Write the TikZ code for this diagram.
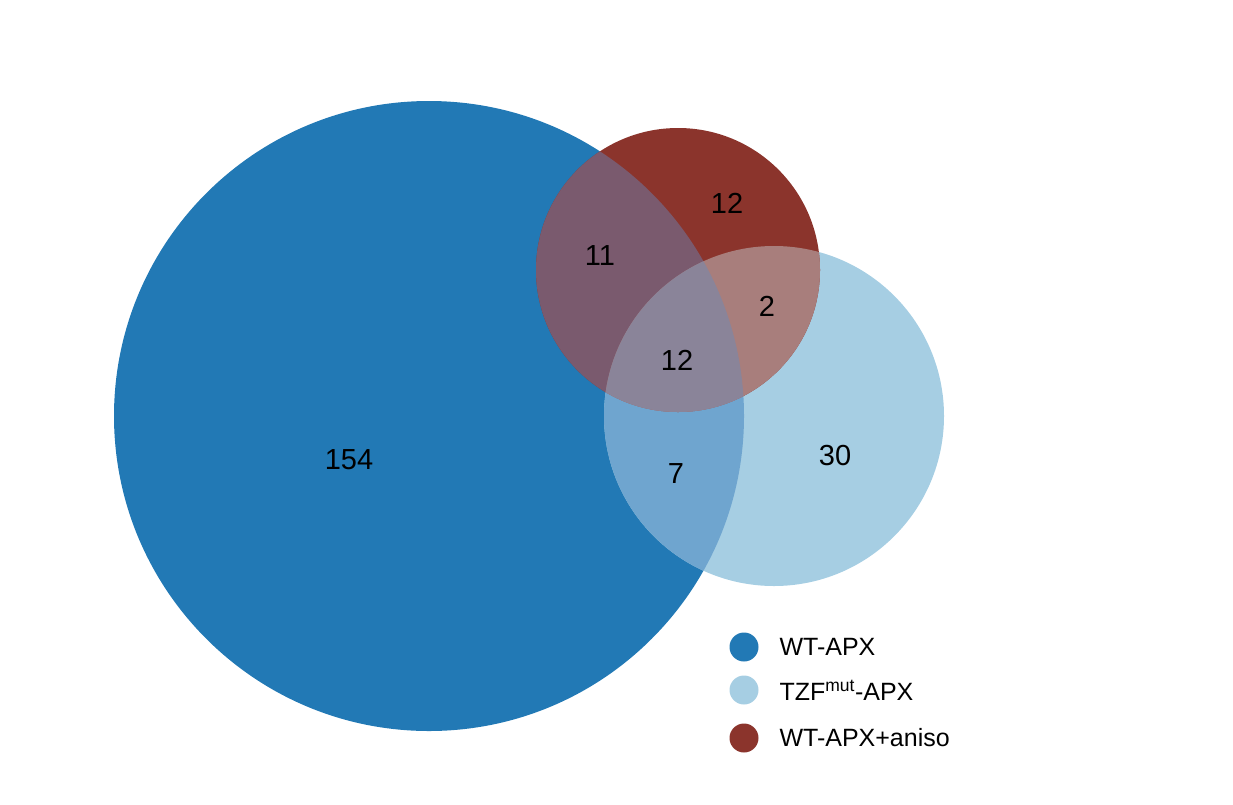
\documentclass[tikz,border=0pt]{standalone}
\usepackage{fontspec}
\setmainfont{Liberation Sans}
\definecolor{cB}{HTML}{2279B5}
\definecolor{cL}{HTML}{A6CEE3}
\definecolor{cR}{HTML}{8B342C}
\definecolor{cBR}{HTML}{7A5A6E}
\definecolor{cBL}{HTML}{6FA5CF}
\definecolor{cRL}{HTML}{A87E7C}
\definecolor{cBRL}{HTML}{8A8499}
\begin{document}
\begin{tikzpicture}[x=1pt,y=-1pt,
  num/.style={font=\fontsize{29}{32}\selectfont},
  leg/.style={font=\fontsize{25}{28}\selectfont,anchor=west},
  dot/.style={circle,minimum size=29pt,inner sep=0pt}]
\useasboundingbox (0,0) rectangle (1233,804);
\def\B{(429,416) circle[radius=315]}
\def\L{(774,416) circle[radius=170]}
\def\R{(678,270) circle[radius=142]}
\fill[cB] \B;
\fill[cL] \L;
\fill[cR] \R;
\begin{scope}\clip \B; \fill[cBL] \L; \fill[cBR] \R; \end{scope}
\begin{scope}\clip \L; \fill[cRL] \R; \end{scope}
\begin{scope}\clip \B; \clip \L; \fill[cBRL] \R; \end{scope}
\node[num] (n154) at (349,460) {154};
\node[num] (n12a) at (727,203) {12};
\node[num] (n11) at (600,256) {11};
\node[num] (n2) at (767,306) {2};
\node[num] (n12b) at (677,360) {12};
\node[num] (n7) at (676,474) {7};
\node[num] (n30) at (835,456) {30};
\node[dot,fill=cB] (d1) at (744,647) {};
\node[dot,fill=cL] (d2) at (744,690) {};
\node[dot,fill=cR] (d3) at (744,738) {};
\node[leg] (t1) at (776,647) {WT-APX};
\node[leg] (t2) at (776,690) {TZF\textsuperscript{mut}-APX};
\node[leg] (t3) at (776,738) {WT-APX+aniso};
\end{tikzpicture}
\end{document}
